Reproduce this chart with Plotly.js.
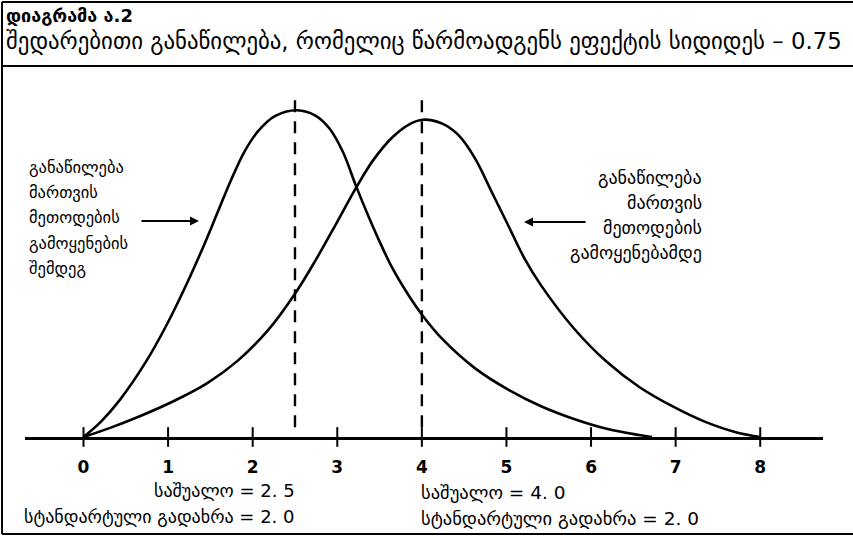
<!DOCTYPE html>
<html>
<head>
<meta charset="utf-8">
<script src="https://cdn.plot.ly/plotly-3.0.1.min.js"></script>
<style>
  body { margin: 0; background: #fff; }
  #C1 { width: 853px; height: 536px; }
</style>
</head>
<body>
<div id="C1"></div>
<script>
// values (x on the 0-8 scale, y = relative height, left peak = 1)

// distribution after the management methods (mean 2.5)
const afterX = [0, 0.21, 0.437, 0.735, 0.987, 1.226, 1.424, 1.583, 1.742, 1.9, 2.061, 2.262, 2.524,
  2.746, 2.908, 3.067, 3.223, 3.381, 3.518, 3.655, 3.852, 4.008, 4.241, 4.63, 5.02, 5.409, 5.798,
  6.185, 6.57, 6.72];
const afterY = [0, 0.048, 0.116, 0.229, 0.345, 0.472, 0.587, 0.686, 0.785, 0.872, 0.935, 0.982, 1.0,
  0.983, 0.944, 0.872, 0.767, 0.668, 0.588, 0.515, 0.43, 0.372, 0.3, 0.21, 0.145, 0.094, 0.055,
  0.025, 0.006, 0];

// distribution before the management methods (mean 4.0)
const beforeX = [0, 0.315, 0.651, 1.075, 1.464, 1.821, 2.182, 2.504, 2.746, 2.988, 3.223, 3.419,
  3.655, 3.852, 4.008, 4.241, 4.436, 4.63, 4.825, 5.02, 5.214, 5.409, 5.798, 6.185, 6.57, 6.954,
  7.344, 7.734, 8];
const beforeY = [0, 0.028, 0.062, 0.111, 0.165, 0.233, 0.327, 0.44, 0.542, 0.653, 0.763, 0.845,
  0.918, 0.957, 0.971, 0.959, 0.923, 0.852, 0.75, 0.648, 0.546, 0.464, 0.332, 0.23, 0.153, 0.095,
  0.047, 0.013, 0];

const tickVals = [0, 1, 2, 3, 4, 5, 6, 7, 8];
const tickText = ["0", "1", "2", "3", "4", "5", "6", "7", "8"];
const meanVals = [2.5, 4.0];
const meanLineTop = 1.052;

const titleLine = "დიაგრამა ა.2";
const subtitleLine = "შედარებითი განაწილება, რომელიც წარმოადგენს ეფექტის სიდიდეს – 0.75";
const afterLabel = ["განაწილება", "მართვის", "მეთოდების", "გამოყენების", "შემდეგ"];
const beforeLabel = ["განაწილება", "მართვის", "მეთოდების", "გამოყენებამდე"];
const afterStats = ["საშუალო = 2. 5", "სტანდარტული გადახრა = 2. 0"];
const beforeStats = ["საშუალო = 4. 0", "სტანდარტული გადახრა = 2. 0"];

// pixel -> paper helpers (plot area is 25..823 by 72..437)
const px = v => (v - 25) / 798;
const py = v => (437 - v) / 365;

const FONT = "DejaVu Sans";

// dashed mean lines
const dashX = [], dashY = [];
meanVals.forEach(m => { dashX.push(m, m, null); dashY.push(0.03, meanLineTop, null); });

const data = [
  {
    x: afterX, y: afterY, mode: "lines", hoverinfo: "skip",
    line: { color: "#000", width: 2.6, shape: "spline", smoothing: 1 },
  },
  {
    x: beforeX, y: beforeY, mode: "lines", hoverinfo: "skip",
    line: { color: "#000", width: 2.6, shape: "spline", smoothing: 1 },
  },
  {
    x: dashX, y: dashY, mode: "lines", hoverinfo: "skip",
    line: { color: "#000", width: 2.4, dash: "12px,9px" },
  },
  {
    // tick marks crossing the axis
    x: tickVals, y: tickVals.map(() => 0), mode: "markers", cliponaxis: false, hoverinfo: "skip",
    marker: { symbol: "line-ns", size: 14, line: { color: "#000", width: 2 } },
  },
];

const annotations = [];
function addText(text, x, y, anchor, size, weight) {
  annotations.push({
    text: text, xref: "paper", yref: "paper", x: px(x), y: py(y),
    xanchor: anchor, yanchor: "middle", showarrow: false,
    font: { family: FONT, size: size, color: "#000", weight: weight || "normal" },
  });
}

addText(titleLine, 4, 16, "left", 18, "bold");
addText(subtitleLine, 4, 42, "left", 22.8);
afterLabel.forEach((t, i) => addText(t, 27, 167 + i * 25.4, "left", 16.5));
beforeLabel.forEach((t, i) => addText(t, 704, 177 + i * 25, "right", 18));
afterStats.forEach((t, i) => addText(t, 297, 490 + i * 26, "right", 18));
beforeStats.forEach((t, i) => addText(t, 419, 492 + i * 26, "left", 18.5));

// arrows
annotations.push({
  text: "", xref: "paper", yref: "paper", x: px(199), y: py(221), ax: -59, ay: 0,
  showarrow: true, arrowhead: 2, arrowsize: 1, arrowwidth: 1.8, arrowcolor: "#000",
});
annotations.push({
  text: "", xref: "paper", yref: "paper", x: px(524), y: py(222), ax: 63, ay: 0,
  showarrow: true, arrowhead: 2, arrowsize: 1, arrowwidth: 1.8, arrowcolor: "#000",
});

// frame of the scanned figure
const frame = { color: "#000", width: 2 };
const shapes = [
  { type: "line", xref: "paper", yref: "paper", x0: px(2), x1: px(2), y0: py(2), y1: py(534), line: frame },
  { type: "line", xref: "paper", yref: "paper", x0: px(2), x1: px(853), y0: py(2), y1: py(2), line: frame },
  { type: "line", xref: "paper", yref: "paper", x0: px(2), x1: px(853), y0: py(66), y1: py(66), line: frame },
  { type: "line", xref: "paper", yref: "paper", x0: px(2), x1: px(853), y0: py(534), y1: py(534), line: frame },
];

const layout = {
  width: 853, height: 536,
  margin: { l: 25, r: 30, t: 72, b: 99 },
  paper_bgcolor: "#fff", plot_bgcolor: "#fff",
  showlegend: false,
  xaxis: {
    range: [-0.6916, 8.742], showgrid: false, zeroline: false,
    showline: true, linecolor: "#000", linewidth: 2.5,
    tickmode: "array", tickvals: tickVals, ticktext: tickText, ticks: "",
    ticklabelstandoff: 13,
    tickfont: { family: FONT, size: 17, color: "#000", weight: "bold" },
    fixedrange: true,
  },
  yaxis: {
    range: [0, 1.117], showgrid: false, zeroline: false, showline: false,
    showticklabels: false, ticks: "", fixedrange: true,
  },
  annotations: annotations,
  shapes: shapes,
};

Plotly.newPlot("C1", data, layout, { displayModeBar: false, staticPlot: true });
</script>
</body>
</html>
